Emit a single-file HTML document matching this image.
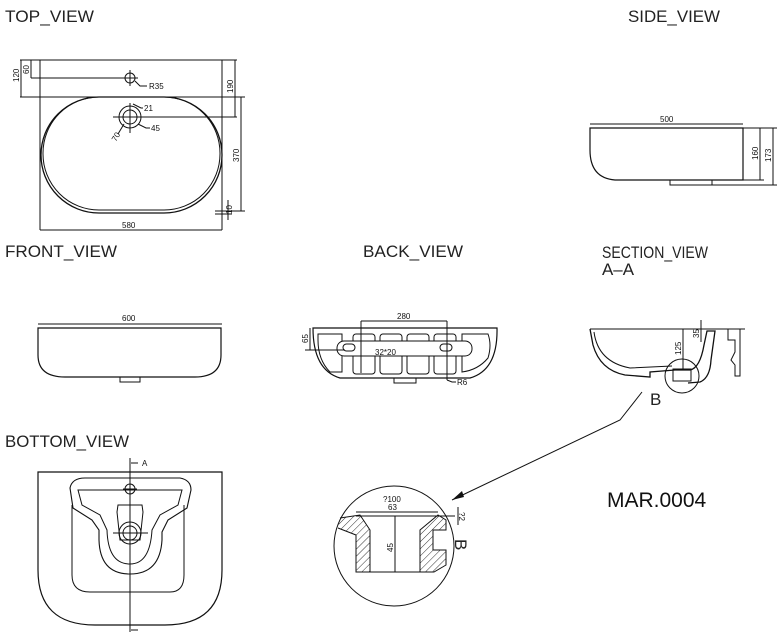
<!DOCTYPE html>
<html><head><meta charset="utf-8"><style>
html,body{margin:0;padding:0;background:#fff;width:781px;height:636px;overflow:hidden}
svg{display:block}
.t{font-family:"Liberation Sans",sans-serif;font-size:17px;fill:#222}
.d{font-family:"Liberation Sans",sans-serif;font-size:8px;fill:#111}
</style></head><body>
<svg width="781" height="636" viewBox="0 0 781 636" xmlns="http://www.w3.org/2000/svg">
<defs>
<pattern id="h" width="5" height="5" patternUnits="userSpaceOnUse" patternTransform="rotate(45)"><line x1="0" y1="0" x2="0" y2="5" stroke="#333" stroke-width="1"/></pattern>
</defs>
<g fill="none" stroke="#111" stroke-width="1">
<!-- TITLES handled below -->
<!-- TOP VIEW -->
<line x1="20" y1="60" x2="237" y2="60"/>
<line x1="40" y1="60" x2="40" y2="230"/>
<line x1="222" y1="60" x2="222" y2="230"/>
<line x1="20" y1="97" x2="245" y2="97"/>
<rect x="41" y="97" width="181" height="116" rx="58" ry="58" stroke-width="1.3"/>
<rect x="43" y="97" width="177" height="113" rx="56" ry="56"/>
<line x1="31" y1="78" x2="130" y2="78"/>
<circle cx="130" cy="78" r="5"/>
<line x1="130" y1="70" x2="130" y2="86"/><line x1="122" y1="78" x2="138" y2="78"/>
<circle cx="130" cy="117" r="11"/><circle cx="130" cy="117" r="7"/>
<line x1="113" y1="117" x2="237" y2="117"/><line x1="130" y1="103" x2="130" y2="133"/>
<line x1="21" y1="60" x2="21" y2="97"/><line x1="31" y1="60" x2="31" y2="78"/>
<line x1="235" y1="60" x2="235" y2="117"/>
<line x1="241" y1="97" x2="241" y2="211"/><line x1="215" y1="211" x2="245" y2="211"/>
<line x1="215" y1="214" x2="232" y2="214"/><line x1="228" y1="200" x2="228" y2="220"/>
<line x1="40" y1="230" x2="222" y2="230"/>
<path d="M135 81 L140 86 L147 86"/><path d="M133 104 L141 108 L143 108"/><path d="M138 124 L146 128 L150 128"/><path d="M124 124 L118 134"/>
<!-- SIDE VIEW -->
<line x1="590" y1="124" x2="743" y2="124"/>
<path d="M590 128 L743 128 L743 180 L615 180 Q590 178 590 150 Z" stroke-width="1.2"/>
<path d="M670 180 L670 185 L712 185 L712 180"/>
<line x1="743" y1="128" x2="777" y2="128"/><line x1="743" y1="180" x2="764" y2="180"/><line x1="712" y1="185" x2="777" y2="185"/>
<line x1="760" y1="128" x2="760" y2="180"/><line x1="773" y1="128" x2="773" y2="185"/>
<!-- FRONT VIEW -->
<line x1="38" y1="324" x2="222" y2="324"/>
<path d="M38 328 L221 328 L221 355 Q221 377 195 377 L65 377 Q38 377 38 355 Z" stroke-width="1.2"/>
<rect x="120" y="377" width="20" height="5"/>
<!-- BACK VIEW -->
<path d="M313 328 L497 328 Q498 370 470 378 L340 378 Q313 370 313 328 Z" stroke-width="1.2"/>
<path d="M318 334 L342 334 L342 372 L330 372 Q318 360 318 340 Z"/>
<rect x="353" y="334" width="22" height="40" rx="3"/><rect x="380" y="334" width="22" height="40" rx="3"/><rect x="407" y="334" width="22" height="40" rx="3"/><rect x="434" y="334" width="22" height="40" rx="3"/>
<path d="M462 334 L488 334 Q492 345 488 358 Q478 370 462 372 Z"/>
<rect x="337" y="341" width="135" height="15" rx="7" fill="#fff"/>
<rect x="343" y="344" width="12" height="7" rx="3.5"/><rect x="440" y="344" width="12" height="7" rx="3.5"/>
<rect x="394" y="378" width="22" height="5"/>
<line x1="361" y1="321" x2="447" y2="321"/><line x1="361" y1="321" x2="361" y2="373"/><line x1="447" y1="321" x2="447" y2="380"/>
<line x1="310" y1="328" x2="310" y2="350"/><line x1="305" y1="350" x2="345" y2="350"/>
<path d="M447 380 L452 382 L456 382"/>
<!-- SECTION -->
<line x1="590" y1="329" x2="745" y2="329"/>
<path d="M590 329 L593 345 Q600 370 625 375 L650 377 L650 372 L675 370 L690 370 Q700 368 704 345 L707 331 L715 331 L711 360 Q710 378 700 382 L688 383" stroke-width="1.3"/>
<path d="M594 332 Q598 362 630 368 L672 366"/>
<rect x="673" y="369" width="18" height="12"/>
<path d="M728 329 L740 329 L740 376 L735 376 L735 365 L731 360 L735 352 L735 340 L728 340 Z"/>
<line x1="683" y1="329" x2="683" y2="369"/>
<line x1="701" y1="320" x2="701" y2="342"/>
<circle cx="682" cy="376" r="17"/>
<path d="M642 392 L620 420 L452 500"/>
<!-- BOTTOM VIEW -->
<line x1="130" y1="458" x2="130" y2="632"/>
<line x1="131" y1="463" x2="138" y2="463"/><line x1="131" y1="630" x2="138" y2="630"/>
<path d="M38 472 L222 472 L222 570 Q222 625 165 625 L95 625 Q38 625 38 570 Z" stroke-width="1.2"/>
<path d="M72 505 L72 575 Q72 592 90 592 L170 592 Q184 592 184 575 L184 505"/>
<path d="M70 488 Q72 478 85 478 L180 478 Q191 480 191 490 L187 508 L168 520 L162 532 L162 540 Q160 574 130 574 Q100 574 99 540 L99 530 L92 520 L73 508 Z" stroke-width="1.1"/>
<path d="M78 490 L182 490 L178 505 L160 515 L152 530 Q150 564 130 564 Q108 564 107 530 L100 515 L82 505 Z"/>
<path d="M118 505 L142 505 L143 512 L140 540 L120 540 L117 512 Z"/>
<circle cx="130" cy="533" r="11"/><circle cx="130" cy="533" r="7"/>
<line x1="113" y1="533" x2="148" y2="533"/>
<circle cx="130" cy="489" r="5"/><line x1="123" y1="489" x2="137" y2="489"/>
<!-- DETAIL -->
<circle cx="394" cy="546" r="60"/>
<path d="M340 518 L360 515 L370 530 L370 572 L356 572 L356 535 L338 528" fill="url(#h)"/>
<path d="M420 530 L438 515 L446 520 L446 530 L433 530 L433 550 L446 550 L446 565 L434 572 L420 572 Z" fill="url(#h)"/>
<line x1="356" y1="512" x2="438" y2="512"/><line x1="356" y1="516" x2="455" y2="516"/>
<line x1="356" y1="572" x2="434" y2="572"/>
<line x1="395" y1="516" x2="395" y2="572"/>
<line x1="458" y1="507" x2="458" y2="525"/>
</g>
<path d="M452 500 L462 491 L464 497 Z" fill="#111"/>
<text class="t" x="5" y="22" textLength="89" lengthAdjust="spacingAndGlyphs">TOP_VIEW</text>
<text class="t" x="628" y="22" textLength="92" lengthAdjust="spacingAndGlyphs">SIDE_VIEW</text>
<text class="t" x="5" y="257" textLength="112" lengthAdjust="spacingAndGlyphs">FRONT_VIEW</text>
<text class="t" x="363" y="257" textLength="100" lengthAdjust="spacingAndGlyphs">BACK_VIEW</text>
<text class="t" x="602" y="258" textLength="106" lengthAdjust="spacingAndGlyphs">SECTION_VIEW</text>
<text class="t" x="602" y="275" textLength="32" lengthAdjust="spacingAndGlyphs">A–A</text>
<text class="t" x="5" y="447" textLength="124" lengthAdjust="spacingAndGlyphs">BOTTOM_VIEW</text>
<text x="607" y="507" font-family="Liberation Sans,sans-serif" font-size="21" fill="#111">MAR.0004</text>
<text class="t" x="650" y="405" font-size="18">B</text>
<text class="t" x="458" y="556" font-size="18" transform="rotate(90 465 546)">B</text>
<text class="d" x="149" y="89">R35</text>
<text class="d" x="144" y="111">21</text>
<text class="d" x="151" y="131">45</text>
<text class="d" transform="translate(116 142) rotate(-60)">70</text>
<text class="d" x="122" y="228">580</text>
<text class="d" transform="translate(19 82) rotate(-90)">120</text>
<text class="d" transform="translate(29 74) rotate(-90)">60</text>
<text class="d" transform="translate(233 93) rotate(-90)">190</text>
<text class="d" transform="translate(239 162) rotate(-90)">370</text>
<text class="d" transform="translate(232 214) rotate(-90)">10</text>
<text class="d" x="660" y="122">500</text>
<text class="d" transform="translate(758 160) rotate(-90)">160</text>
<text class="d" transform="translate(771 162) rotate(-90)">173</text>
<text class="d" x="122" y="321">600</text>
<text class="d" x="397" y="319">280</text>
<text class="d" transform="translate(308 343) rotate(-90)">65</text>
<text class="d" x="375" y="355">32*20</text>
<text class="d" x="457" y="385">R6</text>
<text class="d" transform="translate(681 355) rotate(-90)">125</text>
<text class="d" transform="translate(699 338) rotate(-90)">35</text>
<text class="d" x="142" y="466">A</text>
<text class="d" x="383" y="502">?100</text>
<text class="d" x="388" y="510">63</text>
<text class="d" transform="translate(393 552) rotate(-90)">45</text>
<text class="d" transform="translate(459 512) rotate(90)">?2</text>
</svg>
</body></html>
